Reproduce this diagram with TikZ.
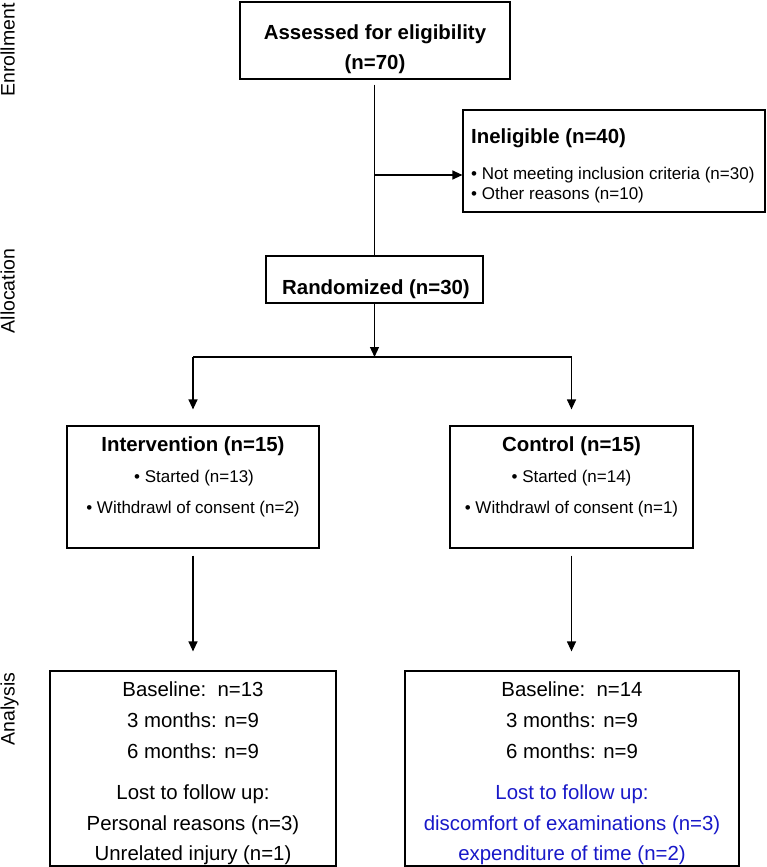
\documentclass[tikz,border=0pt]{standalone}
\usepackage{fontspec}
\setmainfont{Liberation Sans}
\usetikzlibrary{arrows.meta}
\definecolor{lostblue}{RGB}{24,24,200}
\begin{document}
\begin{tikzpicture}[x=1pt,y=-1pt,
  box/.style={draw, line width=1.2pt, inner sep=0pt},
  line/.style={line width=1.2pt},
  arr/.style={line width=1.2pt, -{Triangle[length=10pt,width=9pt]}},
  titletxt/.style={font=\fontsize{20.4}{24}\selectfont\bfseries, inner sep=0pt, anchor=base},
  bodytxt/.style={font=\fontsize{17}{20}\selectfont, inner sep=0pt, anchor=base},
  anatxt/.style={font=\fontsize{20.4}{24}\selectfont, inner sep=0pt, anchor=base},
  sidetxt/.style={font=\fontsize{19.5}{23}\selectfont, inner sep=0pt, anchor=base, rotate=90}]
\useasboundingbox (0,0) rectangle (767,867);

% side labels
\node[sidetxt] (lenroll) at (14.5,50) {Enrollment};
\node[sidetxt] (lalloc) at (14.5,291) {Allocation};
\node[sidetxt] (lana) at (14.5,709) {Analysis};

% boxes
\node[box, minimum width=270pt, minimum height=77pt] (assess) at (375,40.5) {};
\node[box, minimum width=302pt, minimum height=102pt] (inel) at (614,161) {};
\node[box, minimum width=217pt, minimum height=47pt] (rand) at (374.5,279.5) {};
\node[box, minimum width=252pt, minimum height=122pt] (interv) at (193,487) {};
\node[box, minimum width=243pt, minimum height=122pt] (ctrl) at (571.5,487) {};
\node[box, minimum width=286pt, minimum height=195pt] (anaL) at (193,768.5) {};
\node[box, minimum width=334pt, minimum height=195pt] (anaR) at (572,768.5) {};

% texts
\node[titletxt] (a1) at (375,39.3) {Assessed for eligibility};
\node[titletxt] (a2) at (375,69.3) {(n=70)};

\node[titletxt, anchor=base west] (i1) at (471,143) {Ineligible (n=40)};
\node[bodytxt, anchor=base west] (i2) at (471,179) {• Not meeting inclusion criteria (n=30)};
\node[bodytxt, anchor=base west] (i3) at (471,199) {• Other reasons (n=10)};

\node[titletxt] (r1) at (376,294) {Randomized (n=30)};

\node[titletxt] (v1) at (193,451.7) {Intervention (n=15)};
\node[bodytxt] (v2) at (194,482.7) {• Started (n=13)};
\node[bodytxt] (v3) at (193,513.3) {• Withdrawl of consent (n=2)};

\node[titletxt] (c1) at (571.5,451.7) {Control (n=15)};
\node[bodytxt] (c2) at (571.5,482.7) {• Started (n=14)};
\node[bodytxt] (c3) at (571.5,513.3) {• Withdrawl of consent (n=1)};

\node[anatxt] (l1) at (193,696.7) {Baseline:\ \ n=13};
\node[anatxt] (l2) at (193,727.3) {3 months: n=9};
\node[anatxt] (l3) at (193,758.3) {6 months: n=9};
\node[anatxt] (l4) at (193,799.3) {Lost to follow up:};
\node[anatxt] (l5) at (193,830) {Personal reasons (n=3)};
\node[anatxt] (l6) at (193,860) {Unrelated injury (n=1)};

\node[anatxt] (m1) at (572,696.7) {Baseline:\ \ n=14};
\node[anatxt] (m2) at (572,727.3) {3 months: n=9};
\node[anatxt] (m3) at (572,758.3) {6 months: n=9};
\node[anatxt, text=lostblue] (m4) at (572,799.3) {Lost to follow up:};
\node[anatxt, text=lostblue] (m5) at (572,830) {discomfort of examinations (n=3)};
\node[anatxt, text=lostblue] (m6) at (572,860) {expenditure of time (n=2)};

% connectors
\coordinate (branch) at (374.5,175);
\coordinate (split) at (374.5,357);
\draw[line, shorten <=5pt] (assess.south -| rand.north) -- (rand.north);
\draw[arr] (branch) -- (branch -| inel.west);
\draw[arr] (rand.south) -- (split);
\draw[line] (interv.north |- split) -- (ctrl.north |- split);
\draw[arr, shorten >=16pt] (interv.north |- split) -- (interv.north);
\draw[arr, shorten >=16pt] (ctrl.north |- split) -- (ctrl.north);
\draw[arr, shorten <=7pt, shorten >=19pt] (interv.south) -- (anaL.north);
\draw[arr, shorten <=7pt, shorten >=19pt] (ctrl.south) -- (ctrl.south |- anaR.north);
\end{tikzpicture}
\end{document}
